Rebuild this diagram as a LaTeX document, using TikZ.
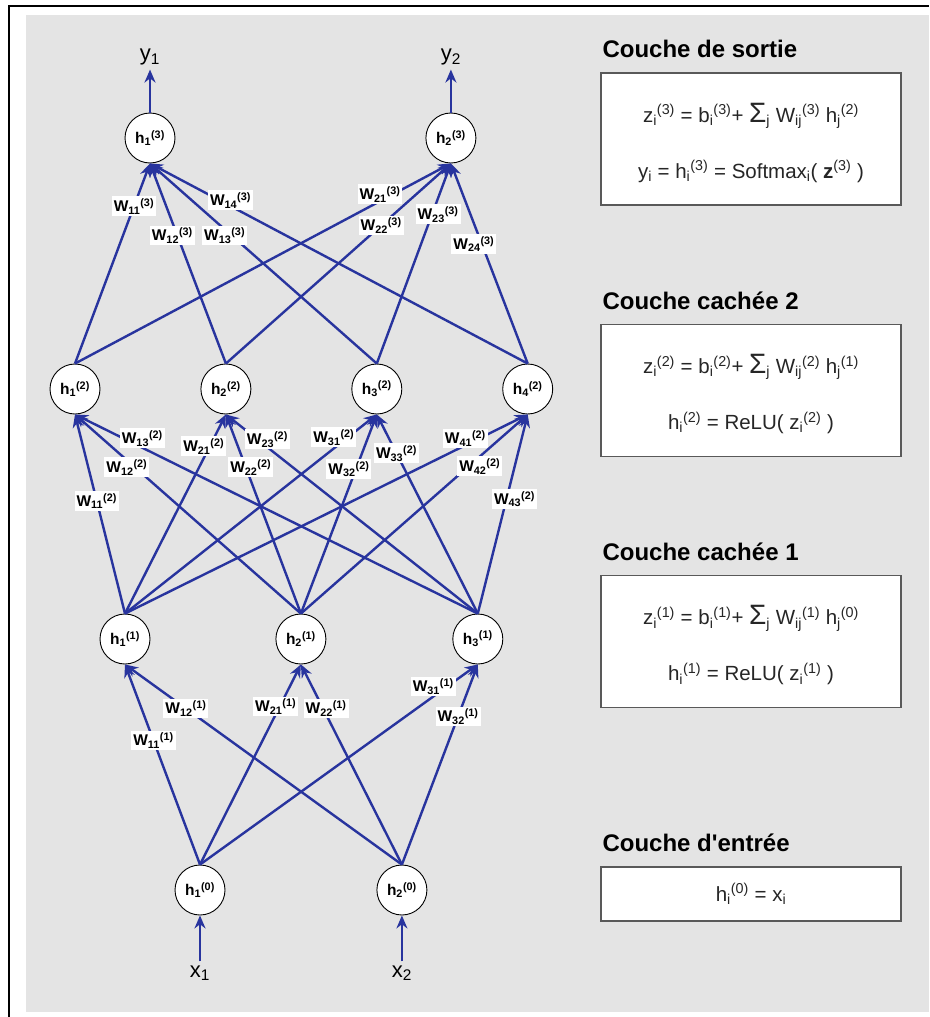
\documentclass[tikz,border=0pt]{standalone}
\usepackage{fontspec}
\setmainfont{Liberation Sans}[Ligatures=TeXOff]
\usepackage{tikz}
\usetikzlibrary{arrows.meta, positioning}

\definecolor{netblue}{RGB}{40,52,158}
\definecolor{panelgray}{RGB}{228,228,228}

\begin{document}
\begin{tikzpicture}[
    x=1pt, y=1pt,
    neuron/.style={circle, draw=black, line width=0.9pt, fill=white, minimum size=50pt, inner sep=0pt, font=\fontsize{15.5}{15.5}\selectfont\bfseries},
    link/.style={draw=netblue, line width=2.4pt, -{Stealth[length=13pt, width=11pt]}},
    weight/.style={fill=white, inner xsep=2pt, inner ysep=2pt, font=\fontsize{15.5}{15.5}\selectfont\bfseries},
    iolabel/.style={inner sep=4pt, font=\fontsize{22}{22}\selectfont},
    layertitle/.style={inner sep=0pt, font=\fontsize{24}{24}\selectfont\bfseries},
    eqbox/.style={rectangle, draw=black!65, line width=1.3pt, fill=white, minimum width=300pt},
    eqline/.style={inner sep=0pt, anchor=base, text=black!85, font=\fontsize{20.5}{20.5}\selectfont}
]

    % --- Canvas ---
    \useasboundingbox (0,0) rectangle (929,-1017);
    \fill[panelgray] (26,-15) rectangle (929,-1012);
    \draw[line width=1.5pt] (9,-1017) -- (9,-6) -- (929,-6);

    % --- Neurons ---
    \node[neuron] (out1) at (150,-138) {h\textsubscript{1}\textsuperscript{(3)}};
    \node[neuron, right=250pt of out1] (out2) {h\textsubscript{2}\textsuperscript{(3)}};

    \node[neuron] (hB1) at (75,-389) {h\textsubscript{1}\textsuperscript{(2)}};
    \node[neuron, right=100pt of hB1] (hB2) {h\textsubscript{2}\textsuperscript{(2)}};
    \node[neuron, right=100pt of hB2] (hB3) {h\textsubscript{3}\textsuperscript{(2)}};
    \node[neuron, right=100pt of hB3] (hB4) {h\textsubscript{4}\textsuperscript{(2)}};

    \node[neuron] (hA1) at (125,-639) {h\textsubscript{1}\textsuperscript{(1)}};
    \node[neuron, right=125pt of hA1] (hA2) {h\textsubscript{2}\textsuperscript{(1)}};
    \node[neuron, right=126pt of hA2] (hA3) {h\textsubscript{3}\textsuperscript{(1)}};

    \node[neuron] (in1) at (200,-890) {h\textsubscript{1}\textsuperscript{(0)}};
    \node[neuron, right=151pt of in1] (in2) {h\textsubscript{2}\textsuperscript{(0)}};

    % --- Inputs and outputs ---
    \node[iolabel, above=43pt of out1] (y1) {y\textsubscript{1}};
    \node[iolabel, above=43pt of out2] (y2) {y\textsubscript{2}};
    \node[iolabel, below=46pt of in1] (x1) {x\textsubscript{1}};
    \node[iolabel, below=46pt of in2] (x2) {x\textsubscript{2}};

    \path[link] (out1) -- (y1);
    \path[link] (out2) -- (y2);
    \path[link] (x1) -- (in1);
    \path[link] (x2) -- (in2);

    % --- Connections ---
    % entree -> cachee 1
    \path[link] (in1.north) -- node[weight, pos=0.62] {W\textsubscript{11}\textsuperscript{(1)}} (hA1.south);
    \path[link] (in2.north) -- node[weight, pos=0.78] {W\textsubscript{12}\textsuperscript{(1)}} (hA1.south);
    \path[link] (in1.north) -- node[weight, pos=0.79, xshift=-4pt] {W\textsubscript{21}\textsuperscript{(1)}} (hA2.south);
    \path[link] (in2.north) -- node[weight, pos=0.78, xshift=3pt] {W\textsubscript{22}\textsuperscript{(1)}} (hA2.south);
    \path[link] (in1.north) -- node[weight, pos=0.89, xshift=-14pt] {W\textsubscript{31}\textsuperscript{(1)}} (hA3.south);
    \path[link] (in2.north) -- node[weight, pos=0.74] {W\textsubscript{32}\textsuperscript{(1)}} (hA3.south);

    % cachee 1 -> cachee 2
    \path[link] (hA1.north) -- node[weight, pos=0.565] {W\textsubscript{11}\textsuperscript{(2)}} (hB1.south);
    \path[link] (hA2.north) -- node[weight, pos=0.735, xshift=-8pt] {W\textsubscript{12}\textsuperscript{(2)}} (hB1.south);
    \path[link] (hA3.north) -- node[weight, pos=0.88, xshift=19pt] {W\textsubscript{13}\textsuperscript{(2)}} (hB1.south);
    \path[link] (hA1.north) -- node[weight, pos=0.84, xshift=-6pt] {W\textsubscript{21}\textsuperscript{(2)}} (hB2.south);
    \path[link] (hA2.north) -- node[weight, pos=0.735, xshift=5pt] {W\textsubscript{22}\textsuperscript{(2)}} (hB2.south);
    \path[link] (hA3.north) -- node[weight, pos=0.875, xshift=10pt] {W\textsubscript{23}\textsuperscript{(2)}} (hB2.south);
    \path[link] (hA1.north) -- node[weight, pos=0.885, xshift=-14pt] {W\textsubscript{31}\textsuperscript{(2)}} (hB3.south);
    \path[link] (hA2.north) -- node[weight, pos=0.725, xshift=-7pt] {W\textsubscript{32}\textsuperscript{(2)}} (hB3.south);
    \path[link] (hA3.north) -- node[weight, pos=0.805] {W\textsubscript{33}\textsuperscript{(2)}} (hB3.south);
    \path[link] (hA1.north) -- node[weight, pos=0.88, xshift=-14pt] {W\textsubscript{41}\textsuperscript{(2)}} (hB4.south);
    \path[link] (hA2.north) -- node[weight, pos=0.74, xshift=11pt] {W\textsubscript{42}\textsuperscript{(2)}} (hB4.south);
    \path[link] (hA3.north) -- node[weight, pos=0.575, xshift=8pt] {W\textsubscript{43}\textsuperscript{(2)}} (hB4.south);

    % cachee 2 -> sortie
    \path[link] (hB1.north) -- node[weight, pos=0.786] {W\textsubscript{11}\textsuperscript{(3)}} (out1.south);
    \path[link] (hB2.north) -- node[weight, pos=0.64, xshift=-5pt] {W\textsubscript{12}\textsuperscript{(3)}} (out1.south);
    \path[link] (hB3.north) -- node[weight, pos=0.64, xshift=-7pt] {W\textsubscript{13}\textsuperscript{(3)}} (out1.south);
    \path[link] (hB4.north) -- node[weight, pos=0.816, xshift=11pt] {W\textsubscript{14}\textsuperscript{(3)}} (out1.south);
    \path[link] (hB1.north) -- node[weight, pos=0.846, xshift=-13pt] {W\textsubscript{21}\textsuperscript{(3)}} (out2.south);
    \path[link] (hB2.north) -- node[weight, pos=0.69] {W\textsubscript{22}\textsuperscript{(3)}} (out2.south);
    \path[link] (hB3.north) -- node[weight, pos=0.746, xshift=6pt] {W\textsubscript{23}\textsuperscript{(3)}} (out2.south);
    \path[link] (hB4.north) -- node[weight, pos=0.597, xshift=-8pt] {W\textsubscript{24}\textsuperscript{(3)}} (out2.south);

    % --- Layer descriptions ---
    \node[eqbox, minimum height=132pt] (sortiebox) at (751,-139) {};
    \node[eqbox, minimum height=132pt, below=118pt of sortiebox] (cache2box) {};
    \node[eqbox, minimum height=132pt, below=118pt of cache2box] (cache1box) {};
    \node[eqbox, minimum height=54pt, below=158pt of cache1box] (entreebox) {};

    \node[layertitle, above=14pt of sortiebox.north west, anchor=south west, xshift=2pt] (sortietitle) {Couche de sortie};
    \node[layertitle, above=14pt of cache2box.north west, anchor=south west, xshift=2pt] (cache2title) {Couche cachée 2};
    \node[layertitle, above=14pt of cache1box.north west, anchor=south west, xshift=2pt] (cache1title) {Couche cachée 1};
    \node[layertitle, above=14pt of entreebox.north west, anchor=south west, xshift=2pt] (entreetitle) {Couche d'entrée};

    \node[eqline] (sortieeq1) at ([yshift=-50pt]sortiebox.north) {z\textsubscript{i}\textsuperscript{(3)} = b\textsubscript{i}\textsuperscript{(3)}+ {\fontsize{28}{28}\selectfont Σ}\textsubscript{j} W\textsubscript{ij}\textsuperscript{(3)} h\textsubscript{j}\textsuperscript{(2)}};
    \node[eqline] (sortieeq2) at ([yshift=-106pt]sortiebox.north) {y\textsubscript{i} = h\textsubscript{i}\textsuperscript{(3)} = Softmax\textsubscript{i}( \textbf{z}\textsuperscript{(3)} )};
    \node[eqline] (cache2eq1) at ([yshift=-50pt]cache2box.north) {z\textsubscript{i}\textsuperscript{(2)} = b\textsubscript{i}\textsuperscript{(2)}+ {\fontsize{28}{28}\selectfont Σ}\textsubscript{j} W\textsubscript{ij}\textsuperscript{(2)} h\textsubscript{j}\textsuperscript{(1)}};
    \node[eqline] (cache2eq2) at ([yshift=-106pt]cache2box.north) {h\textsubscript{i}\textsuperscript{(2)} = ReLU( z\textsubscript{i}\textsuperscript{(2)} )};
    \node[eqline] (cache1eq1) at ([yshift=-50pt]cache1box.north) {z\textsubscript{i}\textsuperscript{(1)} = b\textsubscript{i}\textsuperscript{(1)}+ {\fontsize{28}{28}\selectfont Σ}\textsubscript{j} W\textsubscript{ij}\textsuperscript{(1)} h\textsubscript{j}\textsuperscript{(0)}};
    \node[eqline] (cache1eq2) at ([yshift=-106pt]cache1box.north) {h\textsubscript{i}\textsuperscript{(1)} = ReLU( z\textsubscript{i}\textsuperscript{(1)} )};
    \node[eqline] (entreeeq) at ([yshift=-35pt]entreebox.north) {h\textsubscript{i}\textsuperscript{(0)} = x\textsubscript{i}};

\end{tikzpicture}
\end{document}
